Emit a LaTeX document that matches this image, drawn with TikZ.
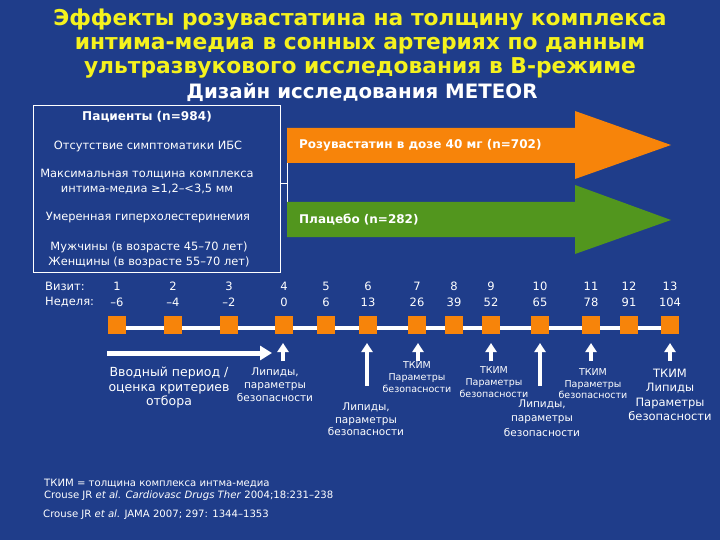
\documentclass[tikz,border=0pt]{standalone}
\usepackage{fontspec}
\setmainfont{DejaVu Sans}
\usetikzlibrary{arrows.meta}
\definecolor{bg}{RGB}{31,61,138}
\definecolor{ttl}{RGB}{245,242,30}
\definecolor{org}{RGB}{247,132,10}
\definecolor{grn}{RGB}{82,150,30}
\begin{document}
\begin{tikzpicture}[x=1pt,y=-1pt,
  ttlstyle/.style={text=ttl,font=\fontsize{21.8}{24}\selectfont\bfseries,align=center,inner sep=0pt},
  subttl/.style={text=white,font=\fontsize{19.8}{22}\selectfont\bfseries,inner sep=0pt},
  boxtxt/.style={text=white,font=\fontsize{11.4}{15}\selectfont,align=center,inner sep=0pt},
  armtxt/.style={text=white,font=\fontsize{12}{14}\selectfont\bfseries,inner sep=0pt,anchor=west},
  tltxt/.style={text=white,font=\fontsize{11.5}{14}\selectfont,inner sep=0pt},
  sq/.style={fill=org,minimum size=18pt,inner sep=0pt},
  lbl/.style={text=white,align=center,inner sep=0pt},
  uparrow/.style={white,line width=3.5pt,-{Triangle[width=11pt,length=9pt]}},
  foot/.style={text=white,font=\fontsize{10.1}{12}\selectfont,inner sep=0pt,anchor=west}
]
\fill[bg] (0,0) rectangle (720,540);
\useasboundingbox (0,0) rectangle (720,540);

% Title
\node[ttlstyle] (title) at (360,44) {Эффекты розувастатина на толщину комплекса\\интима-медиа в сонных артериях по данным\\ультразвукового исследования в В-режиме};
\node[subttl] (sub) at (362,92) {Дизайн исследования METEOR};

% Patient box
\node[draw=white,line width=0.8pt,minimum width=247pt,minimum height=167pt,inner sep=0pt] (box) at (156.5,188.5) {};
\node[boxtxt,font=\fontsize{12.1}{15}\selectfont\bfseries] (p0) at (147,117) {Пациенты (n=984)};
\node[boxtxt] (p1) at (148,146) {Отсутствие симптоматики ИБС};
\node[boxtxt] (p2) at (147,181.5) {Максимальная толщина комплекса\\интима-медиа ≥1,2–<3,5 мм};
\node[boxtxt] (p3) at (148,218) {Умеренная гиперхолестеринемия};
\node[boxtxt] (p4) at (149,254.5) {Мужчины (в возрасте 45–70 лет)\\Женщины (в возрасте 55–70 лет)};

% Bracket
\coordinate (bj) at (287,183);
\coordinate (btop) at (287,128);
\coordinate (bbot) at (287,237);
\draw[white,line width=0.8pt] (box.east |- bj) -- (bj);
\draw[white,line width=0.8pt] (btop) -- (bbot);

% Treatment arrows
\fill[org] (287,128) -- (575,128) -- (575,111) -- (671,145) -- (575,179) -- (575,163) -- (287,163) -- cycle;
\fill[grn] (287,202) -- (575,202) -- (575,185) -- (671,220) -- (575,254) -- (575,237) -- (287,237) -- cycle;
\node[armtxt] (rosu) at (299,145) {Розувастатин в дозе 40 мг (n=702)};
\node[armtxt] (plac) at (299,219.5) {Плацебо (n=282)};

% Timeline
\node[tltxt,anchor=west] (vis) at (45,286) {Визит:};
\node[tltxt,anchor=west] (wk) at (45,302) {Неделя:};
\coordinate (l0) at (117,328);
\coordinate (l1) at (670,328);
\draw[white,line width=4pt] (l0) -- (l1);
\foreach \x/\v/\w in {117/1/–6,173/2/–4,229/3/–2,284/4/0,326/5/6,368/6/13,417/7/26,454/8/39,491/9/52,540/10/65,591/11/78,629/12/91,670/13/104}{
  \node[sq] (s\v) at (\x,325) {};
  \node[tltxt] (n\v) at (\x,286) {\v};
  \node[tltxt] (w\v) at (\x,302) {\w};
}

% Run-in arrow
\coordinate (h0) at (107,353);
\coordinate (h1) at (272,353);
\draw[white,line width=5pt,-{Triangle[width=14pt,length=12pt]}] (h0) -- (h1);

% Up arrows
\foreach \v/\x in {4/283,7/418,9/491,11/591,13/670}{
  \coordinate (b\v) at (\x,361);
  \draw[uparrow] (b\v) -- (\x,343);
}
\foreach \v/\x in {6/367,10/540}{
  \coordinate (b\v) at (\x,386);
  \draw[uparrow] (b\v) -- (\x,343);
}

% Labels
\node[lbl,font=\fontsize{12.5}{14.5}\selectfont] (L0) at (169,388) {Вводный период /\\оценка критериев\\отбора};
\node[lbl,font=\fontsize{10.5}{13}\selectfont] (L4) at (275,385) {Липиды,\\параметры\\безопасности};
\node[lbl,font=\fontsize{10.5}{12.5}\selectfont] (L6) at (366,419.5) {Липиды,\\параметры\\безопасности};
\node[lbl,font=\fontsize{9.5}{12}\selectfont] (L7) at (417,377) {ТКИМ\\Параметры\\безопасности};
\node[lbl,font=\fontsize{9.5}{12}\selectfont] (L9) at (494,382) {ТКИМ\\Параметры\\безопасности};
\node[lbl,font=\fontsize{10.5}{14.5}\selectfont] (L10) at (542,418) {Липиды,\\параметры\\безопасности};
\node[lbl,font=\fontsize{9.5}{11.5}\selectfont] (L11) at (593,384) {ТКИМ\\Параметры\\безопасности};
\node[lbl,font=\fontsize{11.5}{14.5}\selectfont] (L13) at (670,395) {ТКИМ\\Липиды\\Параметры\\безопасности};

% Footnotes
\node[foot] (f1) at (44,484) {ТКИМ = толщина комплекса интма-медиа};
\node[foot] (f2) at (44,496) {Crouse JR \textit{et al.} \textit{Cardiovasc Drugs Ther} 2004;18:231–238};
\node[foot] (f3) at (43,515) {Crouse JR \textit{et al.} JAMA 2007; 297: 1344–1353};
\end{tikzpicture}
\end{document}
